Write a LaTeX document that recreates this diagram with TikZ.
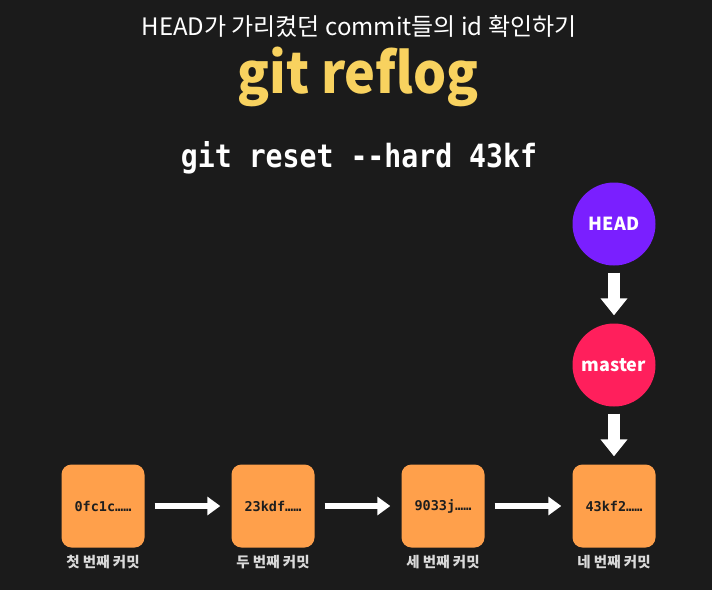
\documentclass[tikz,border=0pt]{standalone}
\usepackage{fontspec}
\usepackage{tikz}
\usetikzlibrary{arrows.meta}
\setmainfont{Noto Sans CJK KR}
\setmonofont{DejaVu Sans Mono}
\newfontfamily\titlefont[FakeStretch=0.93]{Noto Sans CJK KR}
\newfontfamily\cmdfont[FakeStretch=0.88]{DejaVu Sans Mono}
\definecolor{bg}{HTML}{1B1B1B}
\definecolor{yel}{HTML}{F8D25F}
\definecolor{box}{HTML}{FFA04B}
\definecolor{boxtext}{HTML}{1E1E1E}
\definecolor{headc}{HTML}{7A1FFF}
\definecolor{masterc}{HTML}{FF1F5C}
\definecolor{lbl}{HTML}{DADADA}

\begin{document}
\begin{tikzpicture}[x=1pt,y=-1pt]
\tikzstyle{commit}=[fill=box,rounded corners=10pt,minimum width=83pt,minimum height=83pt,inner sep=0pt,text=boxtext,font=\ttfamily\bfseries\fontsize{13.5}{16}\selectfont]
\tikzstyle{ref}=[circle,minimum size=83pt,inner sep=0pt,text=white,font=\bfseries\fontsize{18}{22}\selectfont]
\tikzstyle{commitlabel}=[text=lbl,font=\bfseries\fontsize{14.5}{17}\selectfont]
\tikzstyle{harrow}=[draw=white,line width=6pt,-{Triangle[width=18pt,length=13pt]},shorten <=10pt,shorten >=11pt]
\tikzstyle{varrow}=[draw=white,line width=12pt,-{Triangle[width=26pt,length=17pt]},shorten <=7pt,shorten >=8pt]
\fill[bg] (0,0) rectangle (712,590);
\useasboundingbox (0,0) rectangle (712,590);
\node (T) at (359,35) [anchor=base,text=white,font=\fontsize{24}{28}\selectfont] {HEAD가 가리켰던 commit들의 id 확인하기};
\node (R) at (358,93) [anchor=base,text=yel,font=\titlefont\bfseries\fontsize{56}{62}\selectfont] {git reflog};
\node (G) at (359,167) [anchor=base,text=white,font=\cmdfont\bfseries\fontsize{32}{38}\selectfont] {git reset -{}-hard 43kf};
\node (HEAD) at (614,224) [ref,fill=headc] {HEAD};
\node (M) at (614,365) [ref,fill=masterc] {master};
\node (C1) at (103,506) [commit] {0fc1c……};
\node (C2) at (273,506) [commit] {23kdf……};
\node (C3) at (443,506) [commit] {9033j……};
\node (C4) at (614,506) [commit] {43kf2……};
\node (L1) at (103,562) [commitlabel] {첫 번째 커밋};
\node (L2) at (273,562) [commitlabel] {두 번째 커밋};
\node (L3) at (443,562) [commitlabel] {세 번째 커밋};
\node (L4) at (614,562) [commitlabel] {네 번째 커밋};
\draw[varrow] (HEAD) -- (M);
\draw[varrow] (M) -- (C4);
\draw[harrow] (C1) -- (C2);
\draw[harrow] (C2) -- (C3);
\draw[harrow] (C3) -- (C4);
\end{tikzpicture}
\end{document}
